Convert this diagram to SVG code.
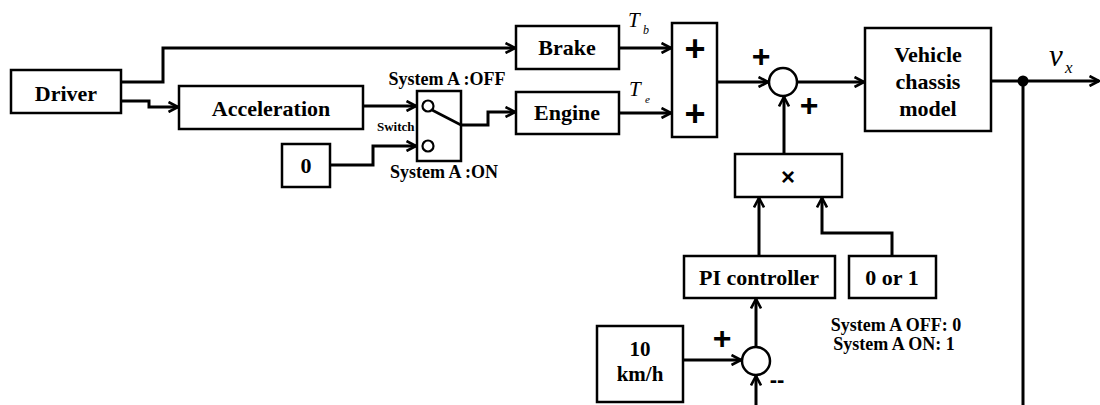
<svg xmlns="http://www.w3.org/2000/svg" width="1100" height="405" viewBox="0 0 1100 405">
<defs>
<marker id="arr" viewBox="0 0 12 12" refX="11" refY="6" markerWidth="12" markerHeight="12" markerUnits="userSpaceOnUse" orient="auto">
<path d="M1.5,1 L11,6 L1.5,11" fill="none" stroke="#000" stroke-width="2.6"/>
</marker>
</defs>
<style>
.box{fill:#fff;stroke:#000;stroke-width:2.5}
.ln{fill:none;stroke:#000;stroke-width:3}
.a{marker-end:url(#arr)}
.t{font-family:"Liberation Serif","Times New Roman",serif;font-weight:bold;font-size:22px;text-anchor:middle;fill:#000}
.s{font-family:"Liberation Serif","Times New Roman",serif;font-weight:bold;font-size:18px;fill:#000}
.it{font-family:"Liberation Serif","Times New Roman",serif;font-style:italic;fill:#000}
.op{font-family:"Liberation Sans",Arial,sans-serif;font-weight:bold;text-anchor:middle;fill:#000}
</style>
<rect width="1100" height="405" fill="#fff"/>
<g id="connectors">
<polyline class="ln a" points="121,82 163,82 163,48 515,48"/>
<polyline class="ln a" points="121,101 149,101 149,107 178,107"/>
<polyline class="ln a" points="363,106 416,106"/>
<polyline class="ln a" points="330,165 373,165 373,146 416,146"/>
<polyline class="ln a" points="461,125 488,125 488,112 515,112"/>
<polyline class="ln a" points="619,48 671,48"/>
<polyline class="ln a" points="619,113 671,113"/>
<polyline class="ln a" points="717,82 768,82"/>
<polyline class="ln a" points="797,82 864,82"/>
<polyline class="ln a" points="991,81 1099,81"/>
<polyline class="ln" points="1023,81 1023,405"/>
<polyline class="ln a" points="784,154 784,97"/>
<polyline class="ln a" points="759,256 759,198"/>
<polyline class="ln a" points="892,256 892,233 822,233 822,198"/>
<polyline class="ln a" points="756,347 756,299"/>
<polyline class="ln a" points="683,360 741,360"/>
<polyline class="ln a" points="756,405 756,376"/>
<circle cx="1023" cy="81" r="5.5" fill="#000"/>
</g>
<g id="driver"><rect class="box" x="11" y="70" width="110" height="43"/><text class="t" x="66" y="101">Driver</text></g>
<g id="acceleration"><rect class="box" x="179" y="86" width="184" height="43"/><text class="t" x="271" y="116">Acceleration</text></g>
<g id="zero"><rect class="box" x="282" y="144" width="48" height="43"/><text class="t" x="306" y="173">0</text></g>
<g id="switch">
<rect class="box" x="417" y="91" width="44" height="70"/>
<circle cx="428" cy="106" r="5.5" fill="#fff" stroke="#000" stroke-width="2.2"/>
<circle cx="428" cy="146" r="5.5" fill="#fff" stroke="#000" stroke-width="2.2"/>
<line x1="432" y1="110" x2="461" y2="125" stroke="#000" stroke-width="2.6"/>
<text class="s" x="447" y="85" text-anchor="middle">System A :OFF</text>
<text class="s" x="377" y="131" style="font-size:13px">Switch</text>
<text class="s" x="444" y="178" text-anchor="middle">System A :ON</text>
</g>
<g id="brake"><rect class="box" x="516" y="26" width="103" height="43"/><text class="t" x="567" y="55">Brake</text>
<text class="it" x="628" y="27" font-size="21">T</text><text class="it" x="643" y="34" font-size="12">b</text></g>
<g id="engine"><rect class="box" x="516" y="92" width="103" height="42"/><text class="t" x="567" y="120">Engine</text>
<text class="it" x="629" y="96" font-size="21">T</text><text class="it" x="645" y="103" font-size="11">e</text></g>
<g id="sumbox"><rect class="box" x="672" y="23" width="45" height="114"/>
<text class="op" x="695" y="61" font-size="36">+</text><text class="op" x="695" y="126" font-size="36">+</text></g>
<g id="sum1"><circle cx="783" cy="82" r="14" fill="#fff" stroke="#000" stroke-width="2.5"/>
<text class="op" x="761" y="67" font-size="32">+</text><text class="op" x="809" y="116" font-size="32">+</text></g>
<g id="vehicle"><rect class="box" x="865" y="28" width="126" height="103"/>
<text class="t" x="928" y="62">Vehicle</text><text class="t" x="928" y="89">chassis</text><text class="t" x="928" y="116">model</text>
<text class="it" x="1049" y="66" font-size="31">v</text><text class="it" x="1065" y="73" font-size="17">x</text></g>
<g id="multiply"><rect class="box" x="735" y="154" width="107" height="43"/><text class="op" x="788" y="185" font-size="24">×</text></g>
<g id="pi"><rect class="box" x="684" y="256" width="151" height="42"/><text class="t" x="759" y="285">PI controller</text></g>
<g id="zeroorone"><rect class="box" x="849" y="256" width="87" height="42"/><text class="t" x="892" y="285">0 or 1</text>
<text class="s" x="896" y="331" text-anchor="middle">System A OFF: 0</text>
<text class="s" x="894" y="350" text-anchor="middle">System A ON: 1</text></g>
<g id="ref"><rect class="box" x="597" y="326" width="86" height="76"/><text class="t" x="640" y="356" style="font-size:21px">10</text><text class="t" x="640" y="381" style="font-size:21px">km/h</text></g>
<g id="sum2"><circle cx="756" cy="361" r="14" fill="#fff" stroke="#000" stroke-width="2.5"/>
<text class="op" x="722" y="349" font-size="32">+</text><text class="op" x="777" y="387" font-size="22">--</text></g>
</svg>
